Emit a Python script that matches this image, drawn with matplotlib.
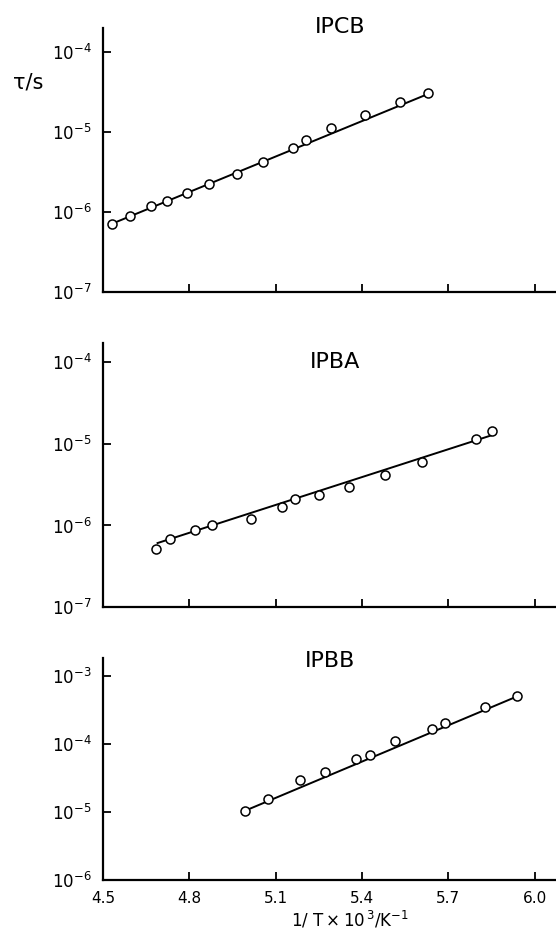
import matplotlib
matplotlib.use('Agg')
import matplotlib.pyplot as plt
import numpy as np

plt.rcParams['mathtext.default'] = 'regular'
plt.rcParams['font.family'] = ['DejaVu Sans']
plt.rcParams['axes.unicode_minus'] = False

# 1/T x 10^3 (K^-1) and relaxation time tau (s)
ipcb_x = [4.532, 4.595, 4.666, 4.723, 4.793, 4.867, 4.966, 5.056, 5.159,
          5.206, 5.294, 5.410, 5.531, 5.630]
ipcb_tau = [7.1e-7, 8.9e-7, 1.19e-6, 1.38e-6, 1.74e-6, 2.26e-6, 2.96e-6,
            4.22e-6, 6.40e-6, 7.94e-6, 1.11e-5, 1.63e-5, 2.37e-5, 3.05e-5]
ipcb_fit_x = [4.53, 5.63]
ipcb_fit_tau = [7.1e-7, 3.0e-5]

ipba_x = [4.686, 4.733, 4.820, 4.878, 5.015, 5.122, 5.167, 5.250, 5.355,
          5.480, 5.610, 5.797, 5.852]
ipba_tau = [5.19e-7, 6.93e-7, 8.69e-7, 1.0e-6, 1.21e-6, 1.67e-6, 2.08e-6,
            2.38e-6, 2.94e-6, 4.09e-6, 5.96e-6, 1.15e-5, 1.42e-5]
ipba_fit_x = [4.69, 5.85]
ipba_fit_tau = [6.1e-7, 1.26e-5]

ipbb_x = [4.994, 5.073, 5.186, 5.273, 5.380, 5.427, 5.515, 5.643, 5.687,
          5.828, 5.939]
ipbb_tau = [1.02e-5, 1.52e-5, 2.92e-5, 3.85e-5, 5.98e-5, 6.90e-5, 1.11e-4,
            1.67e-4, 2.04e-4, 3.50e-4, 5.04e-4]
ipbb_fit_x = [4.99, 5.94]
ipbb_fit_tau = [1.02e-5, 5.0e-4]

x_ticks = [4.5, 4.8, 5.1, 5.4, 5.7, 6.0]
x_ticklabels = ['4.5', '4.8', '5.1', '5.4', '5.7', '6.0']

panels = [
    ('IPCB', ipcb_x, ipcb_tau, ipcb_fit_x, ipcb_fit_tau, [-7, -6, -5, -4], (1e-7, 2.0e-4)),
    ('IPBA', ipba_x, ipba_tau, ipba_fit_x, ipba_fit_tau, [-7, -6, -5, -4], (1e-7, 1.67e-4)),
    ('IPBB', ipbb_x, ipbb_tau, ipbb_fit_x, ipbb_fit_tau, [-6, -5, -4, -3], (1e-6, 1.84e-3)),
]
# axes boxes [left, bottom, width, height] in figure fraction
boxes = [
    [0.185, 0.687, 0.813, 0.283],
    [0.185, 0.349, 0.813, 0.283],
    [0.185, 0.057, 0.813, 0.238],
]
title_pos = [(0.612, 0.971), (0.603, 0.612), (0.594, 0.292)]

fig = plt.figure(figsize=(5.56, 9.33), dpi=100)

for i, (name, x, tau, fx, ftau, exps, ylim) in enumerate(panels):
    ax = fig.add_axes(boxes[i])
    ax.plot(fx, ftau, color='black', lw=1.4, zorder=2)
    ax.plot(x, tau, 'o', ms=6.5, mfc='white', mec='black', mew=1.1, zorder=3)
    ax.set_yscale('log')
    ax.set_xlim(4.5, 6.07)
    ax.set_ylim(*ylim)
    ax.set_yticks([10.0 ** e for e in exps])
    ax.set_yticklabels(['$10^{%d}$' % e for e in exps], fontsize=12)
    ax.yaxis.set_minor_locator(matplotlib.ticker.NullLocator())
    ax.set_xticks(x_ticks[1:] if i < 2 else x_ticks)
    if i == 2:
        ax.set_xticklabels(x_ticklabels, fontsize=11)
    else:
        ax.set_xticklabels([])
    for s in ['top', 'right']:
        ax.spines[s].set_visible(False)
    for s in ['left', 'bottom']:
        ax.spines[s].set_linewidth(1.6)
    ax.tick_params(direction='in', length=6, width=1.3, pad=8)
    ax.tick_params(axis='y', pad=8)
    fig.text(title_pos[i][0], title_pos[i][1], name, fontsize=16,
             ha='center', va='center')

fig.text(0.05, 0.912, 'τ/s', fontsize=15, ha='center', va='center')
fig.text(0.63, 0.014, r'$1/\ T\times10^{\,3}/K^{-1}$', fontsize=12,
         ha='center', va='center')

fig.savefig('out.png', dpi=100)
